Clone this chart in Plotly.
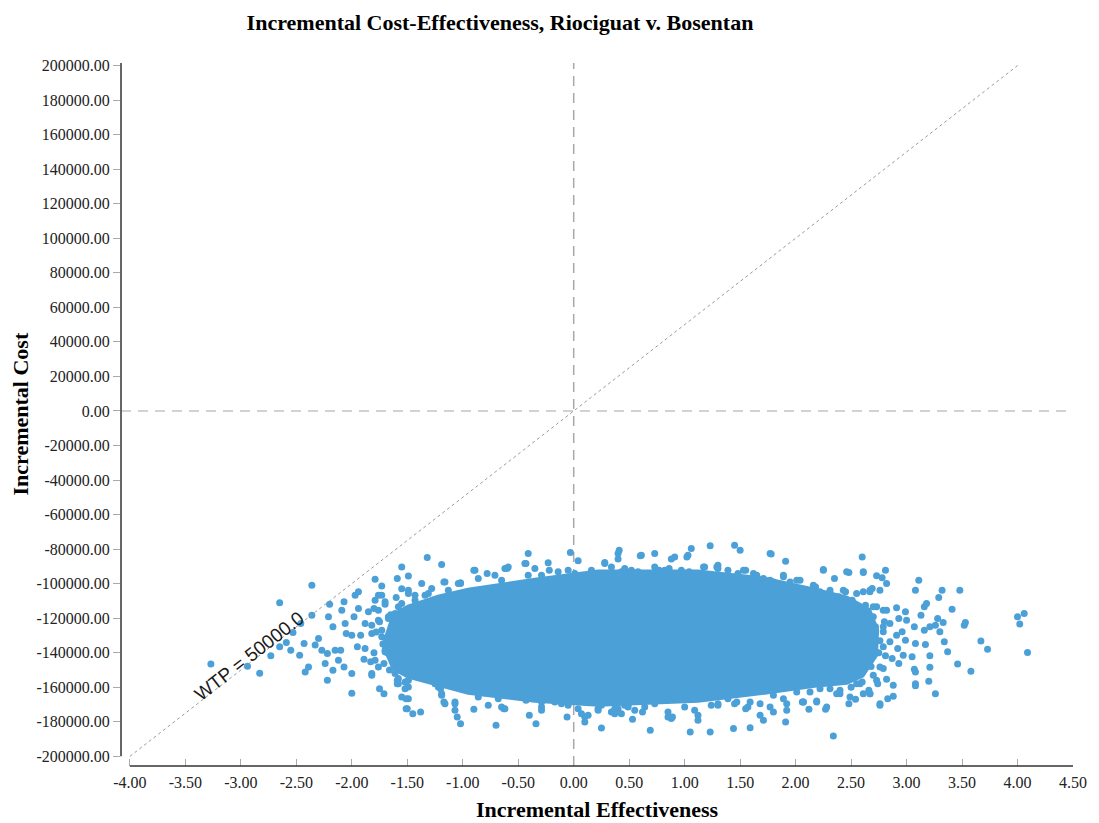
import plotly.graph_objects as go

# ---------------- data ----------------
wtp = 50000.0
wtp_line_eff = [-4.0, 4.0]

x_ticks = [-4.0, -3.5, -3.0, -2.5, -2.0, -1.5, -1.0, -0.5, 0.0, 0.5, 1.0, 1.5, 2.0, 2.5, 3.0, 3.5, 4.0, 4.5]
y_ticks = [-200000, -180000, -160000, -140000, -120000, -100000, -80000, -60000, -40000, -20000,
           0, 20000, 40000, 60000, 80000, 100000, 120000, 140000, 160000, 180000, 200000]

# dense core of the simulation cloud (outline of the solid region)
core_outline = [
    (-1.62, -118300), (-1.49, -113600), (-1.22, -107800), (-0.95, -103800), (-0.35, -98000),
    (0.22, -93300), (1.12, -93300), (1.72, -97400), (2.17, -103800), (2.46, -108400),
    (2.66, -115400), (2.73, -127000), (2.72, -141400), (2.60, -153000), (2.46, -157100),
    (2.17, -158800), (1.72, -162900), (1.12, -167500), (0.22, -169800), (-0.35, -167500),
    (-0.95, -162900), (-1.22, -158300), (-1.49, -153600), (-1.62, -149000), (-1.71, -135600),
]

left_tail = [
    (-3.27, -146500), (-2.65, -111100), (-2.36, -100900), (-2.83, -151900), (-2.94, -147800),
    (-2.73, -141800), (-2.65, -136600), (-2.59, -134100), (-2.53, -128300), (-2.46, -123100),
    (-2.43, -134700), (-2.47, -141400), (-2.42, -151100), (-2.39, -148200), (-2.55, -138500),
    (-2.36, -118300), (-2.20, -111900), (-2.22, -155900), (-2.00, -163500), (-2.21, -119200),
    (-2.17, -125000), (-2.30, -131800), (-2.33, -135600), (-2.27, -138500), (-2.22, -140500),
    (-2.15, -138500), (-2.10, -138500), (-2.24, -146300), (-2.17, -150100), (-2.12, -144300),
    (-2.07, -148200), (-2.07, -110500), (-2.09, -115400), (-2.06, -123100), (-2.05, -128900),
    (-2.00, -152100), (-1.97, -106700), (-1.94, -104700), (-1.79, -97400), (-1.73, -101400),
    (-1.55, -90300), (-1.76, -106700), (-1.75, -160800), (-1.71, -163700), (-1.51, -166600),
    (-1.51, -172400), (-1.51, -156900), (-1.59, -155900), (-1.94, -114400), (-1.98, -119200),
    (-2.00, -129900), (-1.92, -129900), (-1.95, -136600), (-1.88, -137600), (-1.89, -143800),
    (-1.82, -153000), (-1.83, -145300), (-1.76, -148200), (-1.70, -139500), (-1.73, -130800),
    (-1.82, -124100), (-1.88, -123100), (-1.85, -116300), (-1.76, -115400), (-1.67, -120200),
    (-1.64, -127900), (-1.61, -133700), (-1.61, -145300), (-1.70, -110500), (-1.58, -113400),
    (-1.59, -97000), (-1.65, -118000), (-1.62, -125000), (-1.68, -140000), (-1.72, -135000),
    (-1.66, -150000), (-1.75, -122000), (-1.78, -128000), (-1.80, -140000), (-1.70, -112000),
    (-1.60, -108000), (-1.55, -103000), (-1.52, -150000), (-1.58, -155000),
    (-1.80, -114400), (-1.76, -121200), (-1.82, -128900), (-1.73, -127000), (-1.67, -119200),
    (-1.61, -117300), (-1.64, -130800), (-1.70, -138500), (-1.79, -144300), (-1.82, -152100),
    (-1.71, -146300), (-1.58, -142400), (-1.55, -134700), (-1.52, -125000), (-1.56, -148200),
    (-1.49, -155900), (-1.59, -157900), (-1.79, -109600), (-1.73, -106700), (-1.55, -111500),
]

top_edge = [
    (-1.32, -84800), (-1.19, -88900), (-0.41, -82500), (-0.03, -81900), (0.04, -86800),
    (-0.23, -87900), (-0.44, -88300), (-0.90, -92200), (-0.78, -94100), (-0.60, -91200),
    (-1.02, -99500), (-1.37, -99900), (-1.49, -95600), (0.41, -80600), (0.40, -85800),
    (0.28, -87700), (-0.59, -90300), (-1.49, -103800), (-1.43, -106700), (-1.34, -106700),
    (-1.28, -102800), (-1.16, -99000), (-1.13, -103800), (-1.02, -99900), (-0.96, -105700),
    (-0.86, -97000), (-0.71, -95100), (-0.65, -98000), (-0.53, -100900), (-0.43, -88300),
    (-0.35, -91200), (-0.29, -95100), (-0.22, -92200), (-0.14, -93100), (-0.07, -97000),
    (0.01, -94100), (0.10, -97000), (0.16, -92200), (0.22, -95100), (0.34, -90300),
    (0.43, -93100), (1.23, -78100), (1.45, -77700), (1.50, -80600), (1.06, -79600),
    (1.78, -82900), (1.91, -87000), (2.25, -91800), (2.35, -97000), (0.73, -82500),
    (0.60, -83900), (0.88, -85800), (1.02, -84500), (1.17, -90300), (1.30, -89300),
    (1.55, -92200), (0.40, -82500), (0.46, -91200), (0.58, -93100), (0.73, -90300),
    (0.77, -92200), (0.86, -91200), (0.97, -92200), (1.04, -93100), (1.12, -96000),
    (1.18, -90300), (1.30, -91200), (1.39, -92200), (1.47, -97000), (1.53, -92200),
    (1.62, -94100), (1.71, -97000), (1.80, -99000), (1.89, -95100), (1.95, -99000),
    (2.04, -98000), (2.16, -100900), (2.22, -104700), (2.31, -105700), (2.39, -107600),
    (-1.17, -99000), (-1.04, -99900), (-0.89, -92200), (-0.62, -91200), (-0.41, -95100),
    (-0.05, -92200), (0.13, -96000), (0.25, -94100), (-1.49, -105700), (-1.43, -109600),
    (-1.31, -105700), (-1.13, -109600), (-0.98, -105700), (0.28, -88300), (0.61, -83500),
    (0.91, -84500), (1.03, -83500), (1.29, -90300), (1.65, -95100), (1.77, -82500),
    (1.89, -96000), (2.01, -98000), (2.25, -92200), (2.46, -93100), (2.61, -93100),
    (2.43, -103800), (2.55, -105700), (2.67, -104700), (2.18, -101900), (2.31, -103800),
    (0.52, -92200), (0.82, -92200), (1.48, -94100), (1.77, -98000),
]

bottom_edge = [
    (-1.50, -172400), (-1.45, -175300), (-1.38, -174300), (-1.02, -181100), (-1.05, -177200),
    (-1.07, -173300), (-0.90, -172700), (-0.70, -182000), (-0.63, -172400), (-0.40, -176200),
    (-0.34, -181100), (-0.29, -173300), (-0.06, -177200), (0.10, -180100), (-1.19, -164600),
    (-1.16, -169500), (0.04, -172400), (0.25, -183600), (0.10, -177200), (0.37, -172400),
    (0.49, -168500), (-1.52, -156900), (-1.49, -166600), (-1.35, -155000), (-1.20, -160800),
    (-1.17, -168500), (-1.07, -168500), (-0.80, -162700), (-0.77, -170400), (-0.68, -166600),
    (-0.62, -172400), (-0.53, -164600), (-0.43, -167500), (-0.29, -168500), (-0.17, -168500),
    (-0.05, -170400), (0.13, -176200), (0.22, -172400), (0.34, -174300), (0.46, -170400),
    (0.69, -184900), (1.05, -185900), (1.23, -185900), (1.44, -183900), (1.59, -183400),
    (1.91, -180100), (2.34, -188200), (1.71, -179100), (1.80, -174300), (1.68, -176200),
    (2.12, -172700), (2.27, -172700), (2.19, -167900), (2.06, -168500), (1.92, -169500),
    (1.12, -179100), (0.88, -178100), (0.53, -178500), (0.43, -175300), (0.40, -172400),
    (0.49, -170400), (0.55, -173300), (0.62, -174300), (0.73, -169500), (0.85, -174300),
    (0.89, -177200), (1.00, -171400), (1.12, -176200), (1.24, -170400), (1.30, -170400),
    (1.39, -166600), (1.47, -168500), (1.55, -172400), (1.59, -168500), (1.68, -169500),
    (1.80, -164600), (1.89, -166600), (2.01, -162700), (2.07, -168500), (2.13, -162700),
    (2.22, -160800), (2.31, -160800), (2.40, -161700), (-1.22, -159800), (-1.13, -155900),
    (-0.86, -165600), (-1.58, -157900), (-1.52, -160800), (-1.61, -152100),
    (-1.37, -154000), (-1.25, -157900), (-1.19, -163700), (-1.07, -169500), (-0.86, -163700),
    (-0.65, -171400), (-0.47, -165600), (-0.29, -171400), (-0.11, -169500), (0.07, -175300),
    (0.22, -173300), (-1.49, -159800), (-1.55, -165600), (0.25, -170400), (0.37, -175300),
    (0.49, -171400), (0.64, -171400), (0.85, -177200), (1.09, -173300), (1.30, -169500),
    (1.45, -169500), (1.57, -171400), (1.77, -171400), (1.92, -173300), (2.07, -168500),
    (2.19, -168500), (2.28, -171400), (2.37, -163700), (2.49, -165600), (2.61, -163700),
    (2.67, -163700), (2.76, -169500), (2.55, -157900), (2.73, -155900),
]

right_tail = [
    (2.60, -84500), (2.48, -93500), (2.61, -93500), (2.81, -92200), (2.73, -95500),
    (2.78, -96600), (2.82, -99900), (2.67, -103800), (2.76, -103800), (3.11, -98000),
    (3.08, -103800), (3.32, -103800), (3.48, -103800), (3.29, -108000), (3.18, -111500),
    (3.16, -113400), (3.41, -114800), (2.91, -114000), (2.99, -116300), (3.13, -118300),
    (3.28, -120200), (3.33, -122500), (3.53, -122500), (3.52, -124100), (4.00, -119200),
    (4.06, -117300), (4.02, -123300), (4.09, -139900), (3.67, -133200), (3.73, -138000),
    (3.58, -150700), (3.46, -146500), (3.34, -133700), (3.37, -139500), (3.26, -163700),
    (3.20, -156500), (3.21, -148400), (3.21, -141800), (3.17, -135200), (3.08, -134700),
    (3.05, -142400), (3.07, -149600), (3.08, -151100), (3.08, -157900), (3.08, -159200),
    (3.26, -124100), (3.30, -127900), (3.21, -125000), (3.16, -127000), (3.07, -125000),
    (3.00, -121200), (2.96, -127900), (2.99, -132800), (2.97, -141400), (2.93, -146300),
    (2.88, -158800), (2.88, -165200), (2.83, -166600), (2.76, -170400), (2.48, -169500),
    (2.54, -167000), (2.67, -163700), (2.66, -161700), (2.74, -157900), (2.82, -155400),
    (2.60, -156900), (2.40, -163700), (2.79, -149200), (2.87, -143400), (2.81, -141800),
    (2.92, -137600), (2.85, -133700), (2.91, -129900), (2.79, -127900), (2.85, -123100),
    (2.93, -120200), (2.82, -115400), (2.73, -113400), (2.70, -119200), (2.63, -112500),
    (2.55, -112500), (2.51, -109600), (2.45, -104700), (2.61, -104700), (2.69, -102800),
    (2.60, -120000), (2.65, -128000), (2.70, -135000), (2.62, -142000), (2.68, -148000),
    (2.55, -150000), (2.72, -125000), (2.75, -140000), (2.58, -158000), (2.50, -160000),
    (2.64, -116000), (2.76, -133000), (2.70, -153000), (2.80, -122000),
    (2.76, -148200), (2.79, -136600), (2.79, -125000), (2.79, -115400), (2.70, -113400),
]

# ---------------- figure ----------------
POINT_COLOR = "#4ca0d8"
SERIF = "Liberation Serif, Times New Roman, serif"
SANS = "Liberation Sans, Arial, sans-serif"

X_RANGE = [-4.08, 4.5]
Y_RANGE = [-205600, 201500]

fig = go.Figure()

# solid core of the cloud
fig.add_trace(go.Scatter(
    x=[p[0] for p in core_outline] + [core_outline[0][0]],
    y=[p[1] for p in core_outline] + [core_outline[0][1]],
    mode="lines", fill="toself", fillcolor=POINT_COLOR,
    line=dict(color=POINT_COLOR, width=5), hoverinfo="skip", showlegend=False,
))

all_points = left_tail + top_edge + bottom_edge + right_tail
fig.add_trace(go.Scatter(
    x=[p[0] for p in all_points], y=[p[1] for p in all_points],
    mode="markers", marker=dict(color=POINT_COLOR, size=7, line=dict(width=0)),
    showlegend=False,
))

# WTP threshold line
fig.add_trace(go.Scatter(
    x=wtp_line_eff, y=[wtp * v for v in wtp_line_eff], mode="lines",
    line=dict(color="#9a9a9a", width=1, dash="dot"), hoverinfo="skip", showlegend=False,
))

shapes = [
    # dashed reference lines at zero
    dict(type="line", xref="x", yref="paper", x0=0, x1=0, y0=0, y1=1,
         line=dict(color="#a8a8a8", width=1.5, dash="10px,7px"), layer="below"),
    dict(type="line", xref="paper", yref="y", x0=0, x1=0.995, y0=0, y1=0,
         line=dict(color="#c4c4c4", width=1.5, dash="10px,7px"), layer="below"),
    # axis lines (not joined, as in the original)
    dict(type="line", xref="x", yref="paper", x0=x_ticks[0], x1=x_ticks[-1], y0=0, y1=0,
         line=dict(color="#333333", width=1.5)),
    dict(type="line", xref="paper", yref="y", x0=0, x1=0, y0=y_ticks[0], y1=Y_RANGE[1],
         line=dict(color="#333333", width=1.5)),
]

fig.update_layout(
    width=1099, height=823,
    margin=dict(l=121, r=22, t=63, b=57),
    paper_bgcolor="white", plot_bgcolor="white",
    shapes=shapes,
    title=dict(text="<b>Incremental Cost-Effectiveness, Riociguat v. Bosentan</b>",
               font=dict(family=SERIF, size=22, color="#000000"),
               xref="container", x=500 / 1099, xanchor="center",
               yref="container", y=1 - 22 / 823, yanchor="middle"),
    annotations=[
        dict(text="<b>Incremental Effectiveness</b>", xref="paper", yref="paper",
             x=0.5, y=0, yshift=-43, xanchor="center", yanchor="middle", showarrow=False,
             font=dict(family=SERIF, size=22, color="#000000")),
        dict(text="<b>Incremental Cost</b>", xref="paper", yref="paper",
             x=0, y=0.5, xshift=-101, xanchor="center", yanchor="middle", showarrow=False,
             textangle=-90, font=dict(family=SERIF, size=22, color="#000000")),
        dict(text="WTP = 50000.0", xref="x", yref="y", x=-2.93, y=-142000,
             xanchor="center", yanchor="middle", showarrow=False, textangle=-37.8,
             font=dict(family=SANS, size=19, color="#1a1a1a")),
    ],
)

fig.update_xaxes(
    range=X_RANGE, showgrid=False, zeroline=False, showline=False,
    tickvals=x_ticks, ticktext=[f"{v:.2f}" for v in x_ticks],
    ticks="inside", ticklen=7, tickwidth=1, tickcolor="#aaaaaa",
    tickfont=dict(family=SERIF, size=16, color="#222222"), ticklabelstandoff=5,
)
fig.update_yaxes(
    range=Y_RANGE, showgrid=False, zeroline=False, showline=False,
    tickvals=y_ticks, ticktext=[f"{v:.2f}" for v in y_ticks],
    ticks="outside", ticklen=7, tickwidth=1, tickcolor="#aaaaaa",
    tickfont=dict(family=SERIF, size=16, color="#222222"),
)

fig.write_html("out.html")
